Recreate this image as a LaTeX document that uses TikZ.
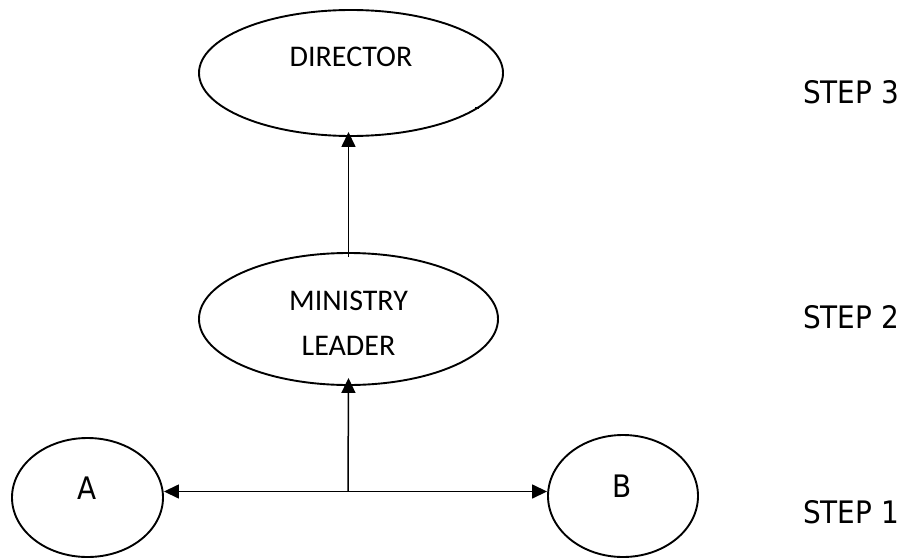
\documentclass[tikz,border=0pt]{standalone}
\usepackage{fontspec}
\usetikzlibrary{shapes.geometric,arrows.meta}
\newfontfamily\stepfont{DejaVu Sans Condensed}
\newfontfamily\calfont{Carlito}
\begin{document}
\begin{tikzpicture}[x=1pt,y=-1pt,
  oval/.style={draw,line width=1.9pt,ellipse,inner sep=0pt},
  lbl/.style={anchor=base,inner sep=0pt,font=\calfont\fontsize{30}{45}\selectfont},
  steplbl/.style={anchor=base west,inner sep=0pt,font=\stepfont\fontsize{31}{36}\selectfont},
  letter/.style={anchor=base,inner sep=0pt,font=\stepfont\fontsize{31}{36}\selectfont},
  tip/.tip={Triangle[length=15pt,width=14pt]},
  conn/.style={line width=1.5pt,-tip},
  conn2/.style={line width=1.5pt,tip-tip}]
\useasboundingbox (0,0) rectangle (909,559);
% ellipses
\node[oval,minimum width=304pt,minimum height=126pt] (dir) at (351,73) {};
\node[oval,minimum width=299pt,minimum height=132pt] (ml) at (348.5,319) {};
\node[oval,minimum width=151pt,minimum height=119pt] (a) at (87.5,497.5) {};
\node[oval,minimum width=150pt,minimum height=122pt] (b) at (623,496) {};
% texts
\node[lbl] (dirt) at (351,67) {DIRECTOR};
\node[lbl] (mlt1) at (348.5,310) {MINISTRY};
\node[lbl] (mlt2) at (348.5,355) {LEADER};
\node[letter] (at) at (87,499) {A};
\node[letter] (bt) at (622,497) {B};
\node[steplbl] (s3) at (803,103) {STEP 3};
\node[steplbl] (s2) at (803,328) {STEP 2};
\node[steplbl] (s1) at (803,523) {STEP 1};
% small stub near director
\coordinate (stub) at (475,108);
\draw[line width=1.2pt] (stub) -- ++(4,0);
% connectors
\draw[conn] ([yshift=-5pt]ml.north) -- ([yshift=5pt]ml.north |- dir.south);
\coordinate (mid) at (348,491.5);
\draw[conn2] (a.east |- mid) -- (b.west |- mid);
\draw[conn] (mid) -- ([yshift=8pt]ml.south);
\end{tikzpicture}
\end{document}
